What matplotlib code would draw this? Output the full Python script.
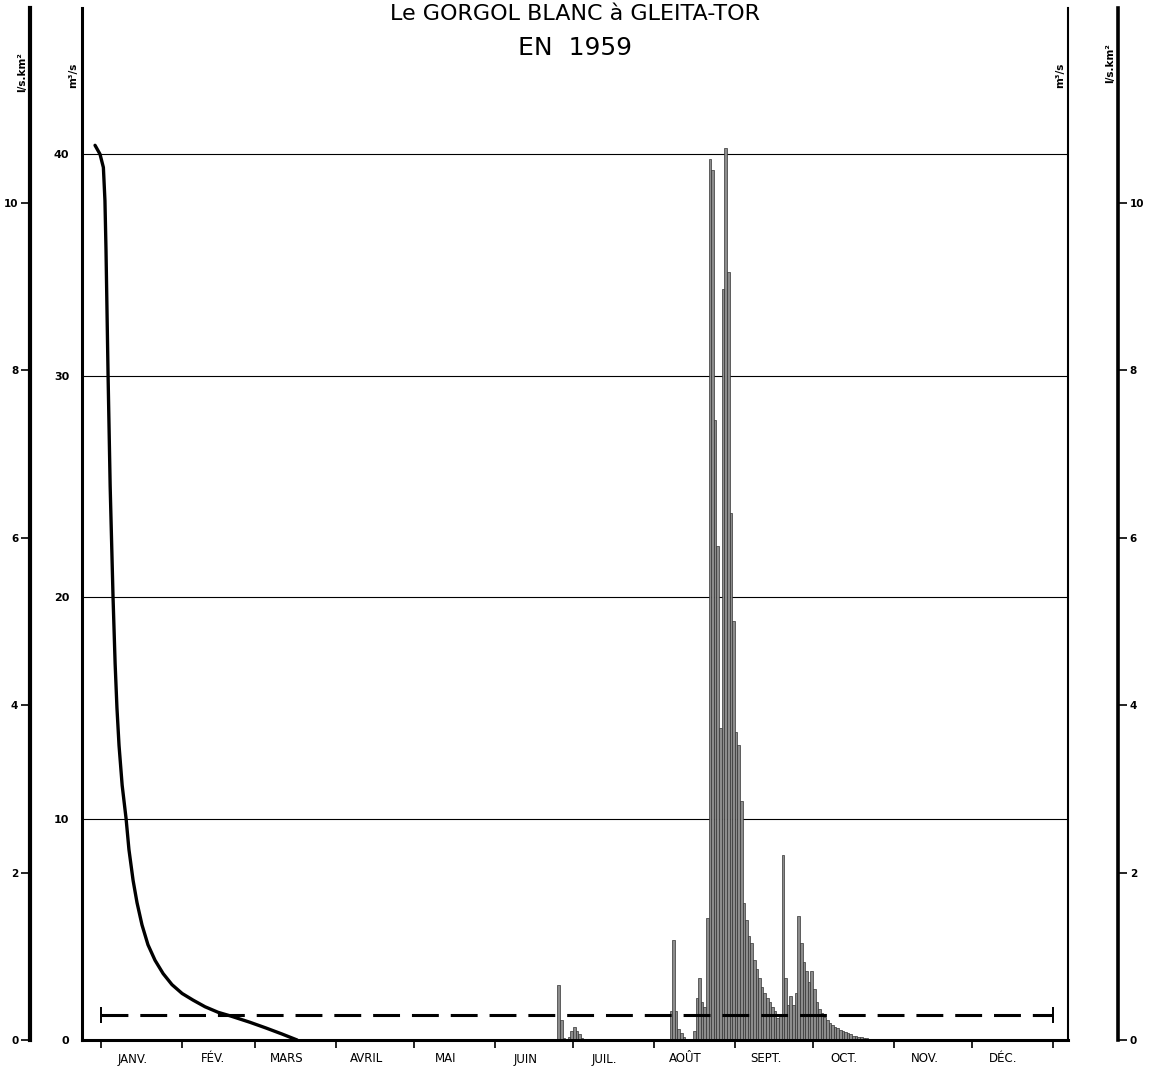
import numpy as np
import matplotlib.pyplot as plt

# Débits journaliers (m3/s) - crues de juin et d'août à octobre
jours_juin = np.arange(175, 186)
debits_juin = [2.5, 0.9, 0.1, 0.05, 0.15, 0.4, 0.6, 0.4, 0.25, 0.1, 0.05]

jours_crue = np.arange(218, 299)
debits_crue = [1.3, 4.5, 1.3, 0.5, 0.3, 0.15, 0.05, 0.0, 0.05, 0.4,
               1.9, 2.8, 1.7, 1.5, 5.5, 39.8, 39.3, 28.0, 22.3, 14.1,
               33.9, 40.3, 34.7, 23.8, 18.9, 13.9, 13.3, 10.8, 6.2, 5.4,
               4.7, 4.4, 3.6, 3.2, 2.8, 2.4, 2.1, 1.9, 1.7, 1.5,
               1.3, 1.0, 1.1, 8.35, 2.8, 1.6, 2.0, 1.6, 2.1, 5.6,
               4.4, 3.5, 3.1, 2.6, 3.1, 2.3, 1.7, 1.4, 1.2, 1.05,
               0.9, 0.75, 0.68, 0.6, 0.54, 0.45, 0.4, 0.36, 0.3, 0.25,
               0.2, 0.17, 0.15, 0.12, 0.1, 0.08, 0.06, 0.05, 0.04, 0.03,
               0.02]

# Courbe de tarissement du début d'année
jours_tarissement = [-2.3, -0.4, 0.9, 1.5, 1.9, 2.7, 3.5, 4.6, 5.4, 6.1, 6.9,
                     8.1, 9.6, 10.7, 12.3, 13.8, 15.7, 18.0, 20.7, 23.8, 27.2,
                     31.1, 35.3, 39.9, 44.9, 49.8, 57.1, 63.3, 69.4, 75.2]
debits_tarissement = [40.4, 40.0, 39.4, 37.9, 35.7, 30.0, 25.0, 20.0, 17.0, 15.0, 13.3,
                      11.5, 10.0, 8.6, 7.2, 6.2, 5.2, 4.3, 3.6, 3.0, 2.5,
                      2.1, 1.8, 1.5, 1.25, 1.08, 0.8, 0.54, 0.27, 0.0]

module = 1.13  # débit moyen annuel
facteur = 3.78  # m3/s pour 1 l/s.km2

debuts_mois = [0, 31, 59, 90, 120, 151, 181, 212, 243, 273, 304, 334, 365]
mois = ['JANV.', 'FÉV.', 'MARS', 'AVRIL', 'MAI', 'JUIN',
        'JUIL.', 'AOÛT', 'SEPT.', 'OCT.', 'NOV.', 'DÉC.']

W, H = 1155, 1072
fig = plt.figure(figsize=(W / 100, H / 100), dpi=100)
ax = fig.add_axes([82 / W, 32 / H, (1068 - 82) / W, (1040 - 8) / H])

ax.set_xlim(-7.3, 370.8)
ax.set_ylim(0, 46.6)

# barres journalières
ax.bar(jours_juin + 0.5, debits_juin, width=1.0, color='#8c8c8c',
       edgecolor='#333333', linewidth=0.5, zorder=2)
ax.bar(jours_crue + 0.5, debits_crue, width=1.0, color='#8c8c8c',
       edgecolor='#333333', linewidth=0.5, zorder=2)

ax.plot(jours_tarissement, debits_tarissement, color='black', lw=2.4,
        solid_capstyle='round', solid_joinstyle='round', zorder=3)

# module
ax.plot([0, 365], [module, module], color='black', lw=2.2,
        linestyle=(0, (8.8, 3.9)), zorder=4)
ax.plot([0, 365], [module, module], linestyle='none', marker='|',
        ms=12, mew=1.4, color='black', zorder=4)

# axes principaux
ax.set_yticks([0, 10, 20, 30, 40])
ax.yaxis.grid(True, color='black', lw=0.8)
ax.set_axisbelow(True)
ax.tick_params(axis='y', which='major', length=0, left=True, right=True,
               labelleft=True, labelright=True, labelsize=8, pad=9)
for lab in ax.get_yticklabels():
    lab.set_fontweight('bold')
ax.set_yticks([0], minor=True)
ax.tick_params(axis='y', which='minor', length=6, width=1.2, left=True, right=True,
               direction='out')

ax.set_xticks(debuts_mois)
ax.set_xticklabels([])
ax.set_xticks([d + 12 for d in debuts_mois[:-1]], minor=True)
ax.set_xticklabels(mois, minor=True, fontsize=8.5)
ax.tick_params(axis='x', which='major', length=6, width=1.2, direction='out')
ax.tick_params(axis='x', which='minor', length=0, pad=9)

ax.spines['top'].set_visible(False)
ax.spines['left'].set_linewidth(2.2)
ax.spines['right'].set_linewidth(1.5)
ax.spines['bottom'].set_linewidth(2.2)

# échelles en l/s.km2
for cote, decal, ep in [('left', 37.4, 3.0), ('right', 36.0, 2.6)]:
    ax2 = ax.twinx()
    ax2.set_ylim(0, 46.6 / facteur)
    ax2.set_yticks([0, 2, 4, 6, 8, 10])
    ax2.yaxis.set_ticks_position(cote)
    for s in ['top', 'bottom', 'left', 'right']:
        ax2.spines[s].set_visible(s == cote)
    ax2.spines[cote].set_position(('outward', decal))
    ax2.spines[cote].set_linewidth(ep)
    ax2.tick_params(axis='y', length=6.5, width=1.2, direction='out',
                    labelsize=7.5, pad=2)
    for lab in ax2.get_yticklabels():
        lab.set_fontweight('bold')

# unités
fig.text(22 / W, 1 - 72 / H, 'l/s.km²', rotation=90, ha='center', va='center',
         fontsize=7.5, fontweight='bold')
fig.text(73 / W, 1 - 75 / H, 'm³/s', rotation=90, ha='center', va='center',
         fontsize=7.5, fontweight='bold')
fig.text(1060 / W, 1 - 75 / H, 'm³/s', rotation=90, ha='center', va='center',
         fontsize=7.5, fontweight='bold')
fig.text(1110 / W, 1 - 63 / H, 'l/s.km²', rotation=90, ha='center', va='center',
         fontsize=7.5, fontweight='bold')

# titre
fig.text(575 / W, 1 - 14 / H, 'Le GORGOL BLANC à GLEITA-TOR', ha='center', va='center',
         fontsize=16)
fig.text(575 / W, 1 - 48 / H, 'EN  1959', ha='center', va='center', fontsize=18)

fig.savefig('out.png', dpi=100)
